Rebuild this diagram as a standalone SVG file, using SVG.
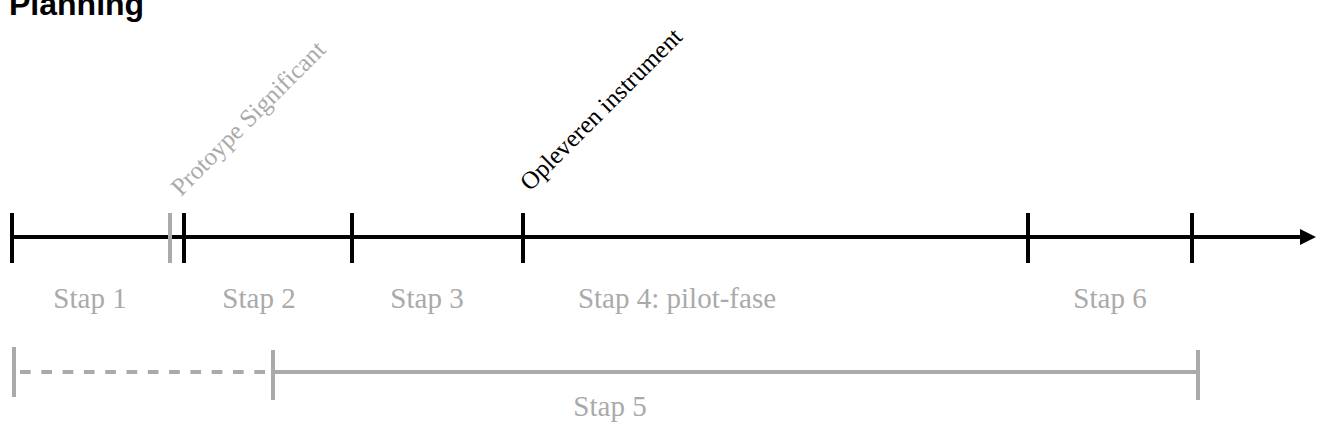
<svg xmlns="http://www.w3.org/2000/svg" width="1321" height="448" viewBox="0 0 1321 448">
<style>
.blk{stroke:#000;stroke-width:4;fill:none}
.gry{stroke:#aaaaaa;stroke-width:4;fill:none}
.lbl{font-family:"Liberation Serif","Times New Roman",serif;font-size:29px;fill:#aaaaaa;text-anchor:middle}
.rot{font-family:"Liberation Serif","Times New Roman",serif;font-size:25px}
.title{font-family:"Liberation Sans",Arial,sans-serif;font-size:32px;font-weight:bold;fill:#000}
</style>
<defs>
<marker id="arr" viewBox="0 0 10 10" refX="0" refY="5" markerWidth="4" markerHeight="4" markerUnits="strokeWidth" orient="auto">
<path d="M0,0 L10,5 L0,10 z" fill="#000"/>
</marker>
</defs>
<text class="title" x="9" y="15">Planning</text>
<g id="connectors">
<line class="blk" x1="12" y1="237" x2="1300" y2="237" marker-end="url(#arr)"/>
<line class="gry" x1="20" y1="372" x2="266" y2="372" stroke-dasharray="10.7,10.6"/>
<line class="gry" x1="273" y1="372" x2="1198" y2="372"/>
</g>
<g id="tick-start"><line class="blk" x1="12" y1="213" x2="12" y2="263"/></g>
<g id="tick-prototype"><line class="gry" x1="170" y1="213" x2="170" y2="263"/>
<text class="rot" fill="#aaaaaa" transform="translate(181,197) rotate(-45)">Protoype Significant</text></g>
<g id="tick-2"><line class="blk" x1="184" y1="213" x2="184" y2="263"/></g>
<g id="tick-3"><line class="blk" x1="352" y1="213" x2="352" y2="263"/></g>
<g id="tick-opleveren"><line class="blk" x1="523" y1="213" x2="523" y2="263"/>
<text class="rot" fill="#000" transform="translate(530,192) rotate(-45)">Opleveren instrument</text></g>
<g id="tick-5"><line class="blk" x1="1028" y1="213" x2="1028" y2="263"/></g>
<g id="tick-6"><line class="blk" x1="1192" y1="213" x2="1192" y2="263"/></g>
<g id="stap1"><text class="lbl" x="90" y="308">Stap 1</text></g>
<g id="stap2"><text class="lbl" x="259" y="308">Stap 2</text></g>
<g id="stap3"><text class="lbl" x="427" y="308">Stap 3</text></g>
<g id="stap4"><text class="lbl" x="677" y="308">Stap 4: pilot-fase</text></g>
<g id="stap6"><text class="lbl" x="1110" y="308">Stap 6</text></g>
<g id="stap5">
<line class="gry" x1="14" y1="347" x2="14" y2="397"/>
<line class="gry" x1="273" y1="350" x2="273" y2="400"/>
<line class="gry" x1="1198" y1="350" x2="1198" y2="400"/>
<text class="lbl" x="610" y="416">Stap 5</text>
</g>
</svg>
